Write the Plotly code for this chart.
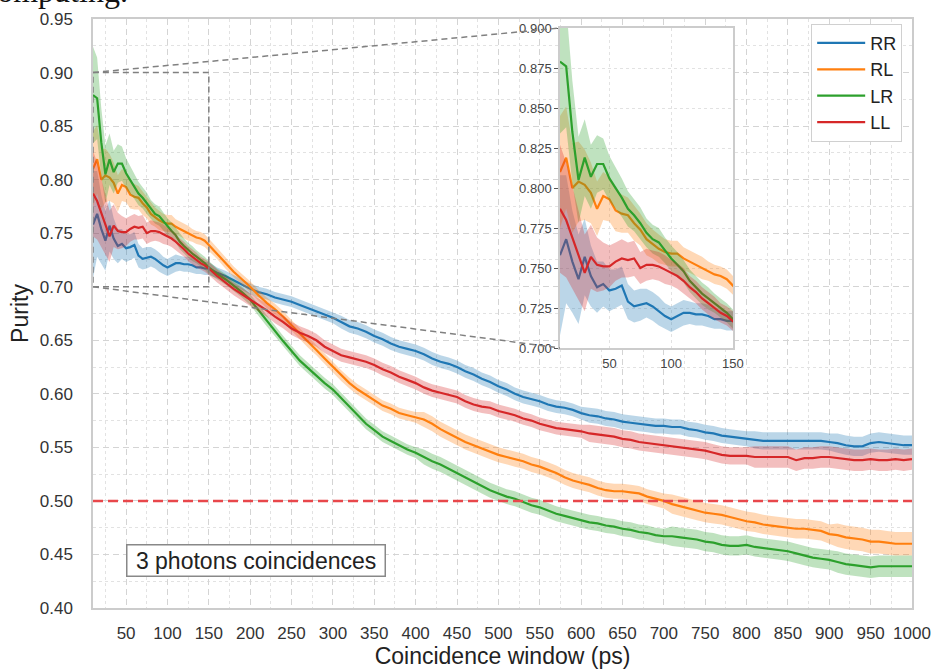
import plotly.graph_objects as go

# Coincidence window (ps): 5 ps steps up to 150 ps, then 10 ps steps
window_ps = [
    10, 15, 20, 25, 30, 35, 40, 45, 50, 55, 60, 65, 70, 75, 80, 85, 90, 95, 100,
    105, 110, 115, 120, 125, 130, 135, 140, 145, 150,
    160, 170, 180, 190, 200, 210, 220, 230, 240, 250,
    260, 270, 280, 290, 300, 310, 320, 330, 340, 350,
    360, 370, 380, 390, 400, 410, 420, 430, 440, 450,
    460, 470, 480, 490, 500, 510, 520, 530, 540, 550,
    560, 570, 580, 590, 600, 610, 620, 630, 640, 650,
    660, 670, 680, 690, 700, 710, 720, 730, 740, 750,
    760, 770, 780, 790, 800, 810, 820, 830, 840, 850,
    860, 870, 880, 890, 900, 910, 920, 930, 940, 950,
    960, 970, 980, 990, 1000,
]

purity_rr = [
    0.758, 0.768, 0.754, 0.743, 0.757, 0.745, 0.738, 0.740, 0.736, 0.737,
    0.739, 0.729, 0.726, 0.727, 0.728, 0.726, 0.723, 0.720, 0.718, 0.720,
    0.722, 0.722, 0.721, 0.721, 0.720, 0.718, 0.718, 0.717, 0.717,
    0.713, 0.710, 0.706, 0.702, 0.698, 0.695, 0.693, 0.690, 0.688, 0.686,
    0.683, 0.680, 0.677, 0.674, 0.671, 0.667, 0.663, 0.661, 0.658, 0.654,
    0.651, 0.647, 0.644, 0.642, 0.640, 0.637, 0.633, 0.630, 0.628, 0.625,
    0.621, 0.618, 0.614, 0.611, 0.607, 0.604, 0.600, 0.597, 0.595, 0.593,
    0.590, 0.588, 0.587, 0.585, 0.582, 0.580, 0.579, 0.577, 0.576, 0.574,
    0.573, 0.572, 0.571, 0.570, 0.570, 0.569, 0.569, 0.567, 0.566, 0.564,
    0.563, 0.561, 0.560, 0.559, 0.558, 0.557, 0.556, 0.556, 0.556, 0.556,
    0.556, 0.556, 0.556, 0.556, 0.555, 0.554, 0.552, 0.551, 0.551, 0.554,
    0.555, 0.554, 0.553, 0.552, 0.552,
]
purity_rl = [
    0.810, 0.819, 0.800, 0.804, 0.802, 0.797, 0.787, 0.795, 0.793, 0.786,
    0.784, 0.783, 0.778, 0.774, 0.768, 0.765, 0.762, 0.760, 0.759, 0.759,
    0.756, 0.754, 0.752, 0.750, 0.748, 0.746, 0.745, 0.743, 0.739,
    0.731, 0.722, 0.714, 0.707, 0.700, 0.692, 0.685, 0.679, 0.672, 0.664,
    0.656, 0.648, 0.641, 0.633, 0.625, 0.617, 0.610, 0.604, 0.599, 0.594,
    0.589, 0.586, 0.582, 0.580, 0.578, 0.576, 0.572, 0.567, 0.563, 0.559,
    0.555, 0.552, 0.549, 0.546, 0.543, 0.541, 0.539, 0.537, 0.534, 0.532,
    0.529, 0.526, 0.522, 0.519, 0.517, 0.515, 0.512, 0.510, 0.509, 0.509,
    0.508, 0.507, 0.504, 0.502, 0.500, 0.497, 0.495, 0.493, 0.491, 0.489,
    0.488, 0.487, 0.485, 0.483, 0.481, 0.480, 0.478, 0.477, 0.476, 0.475,
    0.474, 0.474, 0.473, 0.472, 0.469, 0.468, 0.466, 0.465, 0.464, 0.462,
    0.462, 0.461, 0.460, 0.460, 0.460,
]
purity_lr = [
    0.879, 0.876, 0.835, 0.805, 0.819, 0.807, 0.815, 0.815, 0.806, 0.800,
    0.794, 0.787, 0.783, 0.778, 0.772, 0.768, 0.766, 0.761, 0.756, 0.752,
    0.748, 0.742, 0.738, 0.734, 0.731, 0.728, 0.725, 0.722, 0.718,
    0.712, 0.707, 0.701, 0.695, 0.688, 0.678, 0.668, 0.659, 0.649, 0.640,
    0.631, 0.624, 0.617, 0.610, 0.604, 0.596, 0.588, 0.580, 0.572, 0.566,
    0.560, 0.556, 0.552, 0.548, 0.545, 0.541, 0.537, 0.534, 0.530, 0.526,
    0.522, 0.518, 0.514, 0.510, 0.507, 0.504, 0.502, 0.499, 0.496, 0.494,
    0.491, 0.488, 0.486, 0.484, 0.482, 0.480, 0.479, 0.477, 0.476, 0.474,
    0.473, 0.471, 0.470, 0.468, 0.467, 0.467, 0.466, 0.465, 0.464, 0.462,
    0.461, 0.459, 0.458, 0.458, 0.459, 0.457, 0.456, 0.455, 0.454, 0.453,
    0.451, 0.449, 0.447, 0.446, 0.445, 0.443, 0.441, 0.440, 0.439, 0.438,
    0.439, 0.439, 0.439, 0.439, 0.439,
]
purity_ll = [
    0.787, 0.780, 0.769, 0.758, 0.747, 0.757, 0.752, 0.751, 0.751, 0.754,
    0.756, 0.755, 0.756, 0.750, 0.752, 0.752, 0.751, 0.749, 0.747, 0.745,
    0.742, 0.738, 0.735, 0.731, 0.728, 0.725, 0.722, 0.720, 0.717,
    0.710, 0.704, 0.698, 0.693, 0.688, 0.683, 0.678, 0.672, 0.667, 0.661,
    0.657, 0.654, 0.650, 0.644, 0.640, 0.636, 0.634, 0.632, 0.630, 0.627,
    0.623, 0.620, 0.616, 0.613, 0.610, 0.606, 0.603, 0.601, 0.599, 0.597,
    0.593, 0.590, 0.588, 0.587, 0.584, 0.582, 0.580, 0.577, 0.575, 0.572,
    0.570, 0.568, 0.567, 0.566, 0.565, 0.563, 0.562, 0.561, 0.560, 0.558,
    0.557, 0.555, 0.554, 0.553, 0.552, 0.551, 0.550, 0.549, 0.548, 0.547,
    0.545, 0.543, 0.542, 0.542, 0.542, 0.541, 0.541, 0.541, 0.541, 0.541,
    0.538, 0.540, 0.540, 0.541, 0.541, 0.540, 0.539, 0.538, 0.538, 0.539,
    0.538, 0.538, 0.539, 0.538, 0.539,
]

# Half-width of the uncertainty band around each curve
err_rr = [
    0.050, 0.040, 0.032, 0.028, 0.024, 0.019, 0.016, 0.014, 0.013, 0.012,
    0.012, 0.011, 0.010, 0.010, 0.009, 0.009, 0.009, 0.008, 0.008, 0.008,
    0.008, 0.007, 0.007, 0.007, 0.007, 0.006, 0.006, 0.006, 0.006,
    0.005, 0.005, 0.005, 0.005, 0.005, 0.005, 0.005, 0.005, 0.005, 0.005,
    0.005, 0.005, 0.005, 0.005, 0.005, 0.006, 0.006, 0.006, 0.006, 0.006,
    0.006, 0.006, 0.006, 0.006, 0.006, 0.006, 0.006, 0.006, 0.006, 0.006,
    0.006, 0.006, 0.006, 0.006, 0.006, 0.006, 0.006, 0.006, 0.006, 0.006,
    0.006, 0.006, 0.006, 0.006, 0.006, 0.007, 0.007, 0.007, 0.007, 0.007,
    0.007, 0.007, 0.007, 0.007, 0.007, 0.007, 0.007, 0.007, 0.007, 0.007,
    0.007, 0.007, 0.007, 0.007, 0.007, 0.008, 0.008, 0.008, 0.008, 0.008,
    0.008, 0.008, 0.008, 0.008, 0.008, 0.009, 0.009, 0.009, 0.009, 0.009,
    0.009, 0.009, 0.009, 0.009, 0.009,
]
err_rl = [
    0.035, 0.032, 0.028, 0.025, 0.022, 0.019, 0.017, 0.015, 0.014, 0.013,
    0.012, 0.011, 0.011, 0.010, 0.010, 0.009, 0.009, 0.008, 0.008, 0.008,
    0.007, 0.007, 0.007, 0.007, 0.006, 0.006, 0.006, 0.006, 0.006,
    0.005, 0.005, 0.005, 0.005, 0.005, 0.005, 0.005, 0.005, 0.005, 0.005,
    0.005, 0.005, 0.005, 0.005, 0.005, 0.005, 0.005, 0.005, 0.005, 0.005,
    0.005, 0.005, 0.005, 0.005, 0.005, 0.007, 0.007, 0.007, 0.007, 0.007,
    0.007, 0.007, 0.007, 0.007, 0.007, 0.007, 0.007, 0.007, 0.007, 0.007,
    0.007, 0.007, 0.007, 0.007, 0.007, 0.007, 0.007, 0.007, 0.007, 0.007,
    0.007, 0.007, 0.007, 0.007, 0.007, 0.009, 0.009, 0.009, 0.009, 0.009,
    0.009, 0.009, 0.009, 0.009, 0.009, 0.009, 0.009, 0.009, 0.009, 0.009,
    0.009, 0.009, 0.009, 0.009, 0.009, 0.011, 0.011, 0.011, 0.011, 0.011,
    0.011, 0.011, 0.011, 0.011, 0.011,
]
err_lr = [
    0.045, 0.038, 0.032, 0.027, 0.024, 0.020, 0.018, 0.016, 0.014, 0.013,
    0.012, 0.011, 0.010, 0.010, 0.009, 0.009, 0.009, 0.008, 0.008, 0.008,
    0.007, 0.007, 0.007, 0.007, 0.007, 0.006, 0.006, 0.006, 0.006,
    0.005, 0.005, 0.005, 0.005, 0.005, 0.005, 0.005, 0.005, 0.005, 0.005,
    0.005, 0.005, 0.005, 0.005, 0.005, 0.005, 0.005, 0.005, 0.005, 0.005,
    0.005, 0.005, 0.005, 0.005, 0.005, 0.007, 0.007, 0.007, 0.007, 0.007,
    0.007, 0.007, 0.007, 0.007, 0.007, 0.007, 0.007, 0.007, 0.007, 0.007,
    0.007, 0.007, 0.007, 0.007, 0.007, 0.007, 0.007, 0.007, 0.007, 0.007,
    0.007, 0.007, 0.007, 0.007, 0.007, 0.009, 0.009, 0.009, 0.009, 0.009,
    0.009, 0.009, 0.009, 0.009, 0.009, 0.009, 0.009, 0.009, 0.009, 0.009,
    0.009, 0.009, 0.009, 0.009, 0.009, 0.010, 0.010, 0.010, 0.010, 0.010,
    0.010, 0.010, 0.010, 0.010, 0.010,
]
err_ll = [
    0.040, 0.036, 0.032, 0.028, 0.024, 0.020, 0.017, 0.015, 0.013, 0.012,
    0.012, 0.011, 0.011, 0.010, 0.010, 0.009, 0.009, 0.009, 0.008, 0.008,
    0.008, 0.007, 0.007, 0.007, 0.007, 0.007, 0.006, 0.006, 0.006,
    0.006, 0.006, 0.006, 0.006, 0.006, 0.006, 0.006, 0.006, 0.006, 0.006,
    0.006, 0.006, 0.006, 0.006, 0.006, 0.006, 0.006, 0.006, 0.006, 0.006,
    0.006, 0.006, 0.006, 0.006, 0.006, 0.006, 0.006, 0.006, 0.006, 0.006,
    0.006, 0.006, 0.006, 0.006, 0.006, 0.006, 0.006, 0.006, 0.006, 0.006,
    0.006, 0.006, 0.006, 0.006, 0.006, 0.008, 0.008, 0.008, 0.008, 0.008,
    0.008, 0.008, 0.008, 0.008, 0.008, 0.008, 0.008, 0.008, 0.008, 0.008,
    0.008, 0.008, 0.008, 0.008, 0.008, 0.010, 0.010, 0.010, 0.010, 0.010,
    0.010, 0.010, 0.010, 0.010, 0.010, 0.010, 0.010, 0.010, 0.010, 0.010,
    0.010, 0.010, 0.010, 0.010, 0.010,
]

series_names = ["RR", "RL", "LR", "LL"]
series_values = [purity_rr, purity_rl, purity_lr, purity_ll]
series_errors = [err_rr, err_rl, err_lr, err_ll]
series_colors = ["#1f77b4", "#ff7f0e", "#2ca02c", "#d62728"]

threshold = 0.5
x_range = [10, 1000]
y_range = [0.40, 0.95]
zoom_x = [10, 150]
zoom_y = [0.70, 0.90]
inset_dom_x = [0.5702, 0.7814]
inset_dom_y = [0.4414, 0.9847]

GRID_MAJOR = "#d4d4d4"
GRID_MINOR = "#e2e2e2"
FRAME = "#cccccc"
TEXT = "#333333"


def rgba(hex_color, alpha):
    h = hex_color.lstrip("#")
    r, g, b = int(h[0:2], 16), int(h[2:4], 16), int(h[4:6], 16)
    return f"rgba({r},{g},{b},{alpha})"


def paper_y(v):
    return (v - y_range[0]) / (y_range[1] - y_range[0])


def paper_x(v):
    return (v - x_range[0]) / (x_range[1] - x_range[0])


fig = go.Figure()

# Main panel: bands then lines
for name, vals, errs, col in zip(series_names, series_values, series_errors, series_colors):
    upper = [v + e for v, e in zip(vals, errs)]
    lower = [v - e for v, e in zip(vals, errs)]
    fig.add_trace(go.Scatter(
        x=window_ps + window_ps[::-1], y=upper + lower[::-1],
        fill="toself", fillcolor=rgba(col, 0.3), line=dict(width=0),
        hoverinfo="skip", showlegend=False, xaxis="x", yaxis="y"))
    fig.add_trace(go.Scatter(
        x=window_ps, y=vals, mode="lines", name=name,
        line=dict(color=col, width=2.2), xaxis="x", yaxis="y"))

# Inset panel: zoom on the short windows
n_in = sum(1 for w in window_ps if w <= zoom_x[1]) + 1
for name, vals, errs, col in zip(series_names, series_values, series_errors, series_colors):
    xs = window_ps[:n_in]
    v = vals[:n_in]
    e = errs[:n_in]
    upper = [a + b for a, b in zip(v, e)]
    lower = [a - b for a, b in zip(v, e)]
    fig.add_trace(go.Scatter(
        x=xs + xs[::-1], y=upper + lower[::-1],
        fill="toself", fillcolor=rgba(col, 0.3), line=dict(width=0),
        hoverinfo="skip", showlegend=False, xaxis="x2", yaxis="y2"))
    fig.add_trace(go.Scatter(
        x=xs, y=v, mode="lines", showlegend=False,
        line=dict(color=col, width=2.2), xaxis="x2", yaxis="y2"))

shapes = [
    # white backdrop for the inset (hides the main grid underneath)
    dict(type="rect", xref="x2", yref="y2", x0=zoom_x[0], x1=zoom_x[1],
         y0=zoom_y[0], y1=zoom_y[1], fillcolor="white", line=dict(width=0),
         layer="below"),
    # 0.5 purity threshold
    dict(type="line", xref="x domain", yref="y", x0=0, x1=1,
         y0=threshold, y1=threshold,
         line=dict(color="#e8474b", width=2.5, dash="10px,5px"), layer="above"),
    # zoomed region
    dict(type="rect", xref="x", yref="y", x0=zoom_x[0], x1=zoom_x[1],
         y0=zoom_y[0], y1=zoom_y[1],
         line=dict(color="#808080", width=1.5, dash="6px,4px"), layer="above"),
    # connectors to the inset corners
    dict(type="line", xref="paper", yref="paper",
         x0=paper_x(zoom_x[0]), y0=paper_y(zoom_y[1]),
         x1=inset_dom_x[0], y1=inset_dom_y[1],
         line=dict(color="#808080", width=1.5, dash="6px,4px"), layer="above"),
    dict(type="line", xref="paper", yref="paper",
         x0=paper_x(zoom_x[0]), y0=paper_y(zoom_y[0]),
         x1=inset_dom_x[0], y1=inset_dom_y[0],
         line=dict(color="#808080", width=1.5, dash="6px,4px"), layer="above"),
]

annotations = [
    dict(text="\u00a03 photons coincidences\u00a0", xref="x", yref="y",
         x=50, y=0.4448, xanchor="left", yanchor="middle", showarrow=False,
         font=dict(size=23, color="#222222", family="Liberation Sans, Arial"),
         bgcolor="white", bordercolor="#888888", borderwidth=1.5, borderpad=2),
    dict(text="computing.", xref="paper", yref="paper", x=0.045, y=1.013,
         xanchor="right", yanchor="bottom", showarrow=False,
         font=dict(size=32, color="#111111", family="Liberation Serif, serif")),
]

axis_common = dict(
    showline=True, mirror=True, linecolor=FRAME, linewidth=1.5,
    zeroline=False, ticks="", automargin=False,
    tickfont=dict(size=17, color=TEXT),
    gridcolor=GRID_MAJOR, griddash="6px,4px", gridwidth=1,
)

fig.update_layout(
    width=933, height=669,
    margin=dict(l=93, r=21, t=19, b=61),
    paper_bgcolor="white", plot_bgcolor="white",
    font=dict(family="Liberation Sans, Arial, sans-serif", color=TEXT),
    showlegend=True,
    legend=dict(x=0.988, y=0.992, xanchor="right", yanchor="top",
                bgcolor="white", bordercolor="#d0d0d0", borderwidth=1,
                font=dict(size=18, color="#222222"), itemwidth=48,
                tracegroupgap=0),
    xaxis=dict(
        axis_common, domain=[0, 1], anchor="y", range=x_range,
        tick0=0, dtick=50, showgrid=True, ticklabelstandoff=9,
        minor=dict(tick0=0, dtick=25, showgrid=True, gridcolor=GRID_MINOR,
                   griddash="dot", gridwidth=1),
        title=dict(text="Coincidence window (ps)", font=dict(size=23, color="#222222"),
                   standoff=3),
    ),
    yaxis=dict(
        axis_common, domain=[0, 1], anchor="x", range=y_range,
        tick0=0, dtick=0.05, tickformat=".2f", showgrid=True, ticklabelstandoff=15,
        minor=dict(tick0=0, dtick=0.025, showgrid=True, gridcolor=GRID_MINOR,
                   griddash="dot", gridwidth=1),
        title=dict(text="Purity", font=dict(size=23, color="#222222"), standoff=5),
    ),
    xaxis2=dict(
        domain=inset_dom_x, anchor="y2", range=zoom_x, automargin=False,
        tickvals=[50, 100, 150], showgrid=True, gridcolor=GRID_MINOR,
        griddash="dot", showline=True, mirror=True, linecolor=FRAME,
        linewidth=1.5, zeroline=False, ticks="", ticklabelstandoff=3,
        tickfont=dict(size=13, color="#444444"),
    ),
    yaxis2=dict(
        domain=inset_dom_y, anchor="x2", range=zoom_y, automargin=False,
        tick0=0.7, dtick=0.025, tickformat=".3f", showgrid=True,
        gridcolor=GRID_MINOR, griddash="dot", showline=True, mirror=True,
        linecolor=FRAME, linewidth=1.5, zeroline=False,
        ticks="outside", ticklen=4, tickcolor="#555555",
        tickfont=dict(size=13, color="#444444"),
    ),
    shapes=shapes,
    annotations=annotations,
)

fig.write_html("out.html")
